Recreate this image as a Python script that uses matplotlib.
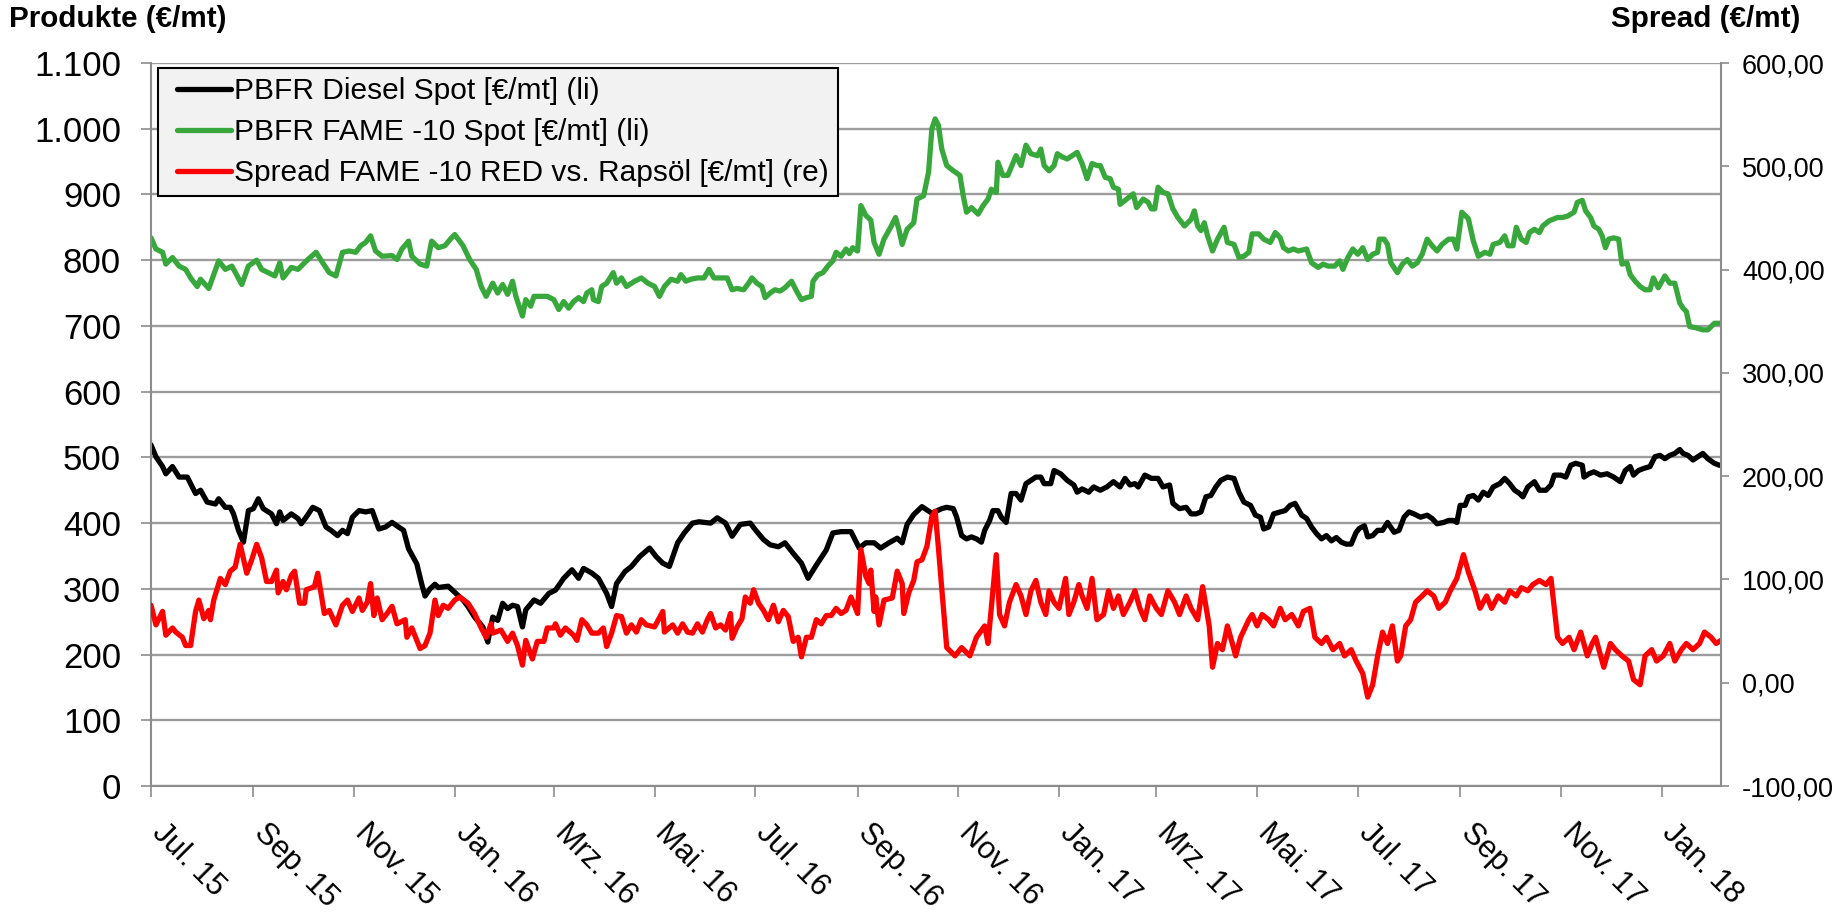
#!/usr/bin/env python3
"""
Produktpreise Diesel / FAME -10 und Spread FAME vs. Rapsoel
(readings Jul 2015 - Feb 2018, days counted from 1 Jul 2015)
"""

import pandas as pd
import matplotlib
matplotlib.use('Agg')
import matplotlib.pyplot as plt
import matplotlib.dates as mdates
from matplotlib.ticker import FuncFormatter
from matplotlib.transforms import ScaledTranslation
from matplotlib.legend_handler import HandlerLine2D

plt.rcParams['font.family'] = ['Liberation Sans', 'DejaVu Sans']

START_DATE = '2015-07-01'
LAST_DAY = 951

# PBFR Diesel Spot [EUR/mt] (left axis)
diesel_days = [0, 3, 7, 9, 13, 17, 22, 27, 30, 34, 39, 41, 45, 48, 50, 53, 56, 59, 62, 65, 68, 73, 76, 78, 80,
               85, 89, 91, 94, 98, 102, 106, 109, 113, 116, 119, 122, 126, 130, 134, 138, 142, 146, 150, 153,
               156, 161, 164, 166, 169, 172, 174, 180, 183,
               189, 192, 196, 201, 204, 207, 210, 213, 216, 219, 222, 225, 227, 232, 236, 241, 245, 250, 255,
               259, 262, 267, 271, 276, 279, 282, 287, 291, 296, 302, 306, 310, 314, 319, 323, 328, 332, 339,
               343, 348, 352, 357, 363, 366, 371, 375, 380, 384, 389, 394, 398, 403, 409, 413, 418, 424, 429,
               433, 438, 442, 447, 452, 455, 458, 462, 467, 473,
               479, 482, 486, 488, 491, 494, 497, 500, 503, 505, 508, 510, 513, 515, 518, 521, 524, 527, 530,
               533, 536, 539, 541, 545, 547,
               551, 555, 559, 561, 564, 568, 571, 575, 579, 583, 587, 590, 593, 596, 598, 602, 606, 610, 613,
               617, 619, 623, 627, 630, 633, 636, 639, 642, 645, 648, 652, 656, 659, 662, 666, 669, 672, 674,
               677, 680, 684, 687, 690, 693, 697, 700, 703, 706, 709, 712, 715, 718, 721, 724, 727, 730,
               732, 735, 737, 740, 743, 746, 749, 753, 756, 759, 762, 765, 769, 773, 776, 779, 783, 786, 789,
               791, 793, 796, 798, 801, 804, 807, 810, 813, 817, 820, 823, 826, 829, 831, 834, 838, 841, 845,
               848, 850, 854, 857, 860, 863, 867, 868, 871, 874, 878, 882, 886, 890, 893, 896, 898, 901, 904,
               908, 911, 914, 917, 920, 923, 926, 928, 931, 934, 937, 940, 943, 947, 950, 951]
diesel = [519, 501, 486, 475, 486, 470, 470, 445, 450, 432, 429, 437, 424, 424, 414, 389, 371, 419, 422, 437,
          422, 414, 399, 417, 404, 414, 407, 399, 409, 424, 419, 394, 389, 381, 389, 384, 409, 419, 417, 419,
          391, 394, 401, 394, 389, 361, 338, 307, 289, 300, 307, 302, 304, 297,
          283, 273, 257, 242, 219, 257, 252, 278, 270, 275, 273, 242, 268, 283, 278, 293, 298, 316, 329,
          316, 331, 324, 316, 293, 273, 308, 326, 334, 349, 362, 349, 339, 334, 370, 385, 400, 402, 400,
          408, 400, 380, 398, 400, 390, 375, 367, 364, 370, 354, 339, 316, 336, 359, 385, 387, 387, 362,
          370, 370, 362, 370, 377, 370, 398, 413, 425, 415,
          422, 424, 422, 409, 381, 376, 379, 376, 371, 389, 404, 419, 419, 409, 401, 445, 445, 435, 460,
          465, 470, 470, 460, 460, 480,
          475, 465, 458, 447, 452, 447, 455, 450, 455, 463, 455, 468, 458, 460, 455, 473, 468, 468, 455,
          458, 430, 422, 424, 414, 414, 417, 440, 442, 455, 465, 470, 468, 447, 432, 427, 412, 409, 391,
          394, 414, 417, 419, 427, 430, 412, 407, 394, 384, 376, 381, 373, 378, 371, 368, 368, 386,
          392, 396, 379, 381, 389, 389, 401, 386, 389, 409, 417, 414, 409, 412, 407, 399, 401, 404, 404,
          401, 427, 427, 440, 442, 435, 447, 442, 455, 460, 468, 460, 450, 445, 440, 455, 463, 450, 450,
          458, 473, 473, 470, 488, 491, 488, 470, 475, 478, 473, 475, 470, 463, 480, 486, 473, 480, 483,
          486, 501, 503, 498, 503, 506, 512, 506, 503, 496, 501, 506, 498, 491, 488, 488]

# PBFR FAME -10 Spot [EUR/mt] (left axis)
fame_days = [0, 3, 7, 9, 13, 17, 21, 24, 28, 30, 35, 41, 45, 49, 55, 59, 64, 67, 71, 75, 78, 80, 85, 89, 95,
             100, 104, 108, 112, 116, 120, 124, 127, 130, 133, 136, 140, 146, 149, 152, 156, 158, 163, 167,
             170, 174, 178, 182, 184,
             189, 193, 197, 200, 203, 207, 210, 213, 216, 219, 221, 225, 227, 230, 232, 236, 240, 244, 247,
             250, 253, 256, 259, 262, 264, 267, 268, 271, 273, 276, 280, 282, 285, 288, 293, 297, 301, 305,
             308, 311, 315, 319, 321, 324, 327, 331, 335, 338, 341, 345, 349, 352, 355, 359, 362,
             364, 367, 370, 372, 375, 378, 381, 384, 388, 391, 394, 397, 400, 401, 404, 407, 410, 413, 415,
             418, 421, 423, 425, 428, 430, 433, 436, 438, 441, 444, 448, 451, 453, 455, 458, 462, 464, 468,
             471, 473, 475, 477, 479, 482, 486, 490, 492, 494, 497, 501, 504, 507, 509, 512, 513, 516, 519,
             521, 524, 527, 530, 533, 537, 539, 541, 544, 547,
             549, 552, 555, 558, 561, 564, 567, 570, 573, 575, 578, 581, 583, 586, 587, 591, 595, 597, 601,
             604, 606, 608, 610, 613, 616, 619, 622, 626, 630, 632, 634, 636, 638, 640, 643, 646, 650, 652,
             656, 659, 662, 665, 667, 671, 674, 678, 681, 684, 686, 689, 692, 695, 700, 703, 707, 710, 713,
             717, 720, 722, 725, 728, 731,
             734, 737, 740, 743, 744, 747, 749, 751, 755, 758, 761, 764, 767, 770, 773, 776, 779, 782, 786,
             789, 791, 794, 798, 801, 804, 808, 811, 813, 817, 820, 822, 825, 827, 830, 833, 835, 838, 841,
             843, 847, 852, 855, 858, 862, 864, 867, 869, 872, 874, 877, 879, 881, 883, 886, 889, 891, 894,
             896, 899, 902, 905, 908, 910, 913, 917, 920, 923, 926, 928, 930, 932, 936, 940, 943, 947, 951]
fame = [834, 817, 812, 794, 804, 791, 786, 773, 760, 771, 757, 799, 786, 791, 763, 791, 800, 786, 781, 776,
        796, 773, 789, 786, 801, 812, 796, 781, 776, 812, 814, 812, 822, 827, 837, 814, 806, 807, 801, 817,
        829, 806, 794, 791, 829, 819, 822, 834, 839,
        822, 801, 786, 760, 745, 765, 750, 763, 748, 768, 745, 715, 740, 730, 745, 745, 745, 740, 725,
        737, 727, 737, 743, 737, 750, 755, 740, 737, 760, 765, 781, 765, 773, 760, 768, 773, 765, 760,
        745, 760, 771, 768, 778, 768, 771, 773, 773, 786, 773, 773, 773, 755, 757, 755, 765,
        773, 765, 760, 743, 750, 755, 753, 758, 768, 753, 740, 743, 745, 768, 778, 781, 791, 799, 812,
        806, 817, 810, 819, 814, 883, 868, 861, 827, 809, 832, 850, 865, 847, 824, 847, 857, 893, 898,
        934, 1000, 1015, 1005, 969, 944, 936, 929, 898, 873, 880, 870, 883, 893, 908, 903, 949, 929, 929,
        941, 959, 944, 975, 962, 959, 969, 944, 936, 944,
        962, 957, 954, 959, 964, 947, 924, 947, 944, 944, 926, 924, 911, 908, 885, 893, 901, 880, 893,
        888, 878, 878, 911, 903, 901, 878, 865, 852, 862, 875, 852, 845, 857, 837, 814, 832, 850, 827,
        824, 804, 806, 812, 840, 840, 832, 827, 842, 834, 819, 814, 817, 814, 817, 796, 789, 794, 791,
        791, 799, 786, 804, 817, 809,
        819, 801, 809, 812, 832, 832, 824, 796, 781, 794, 801, 791, 796, 809, 832, 822, 814, 824, 832,
        832, 817, 873, 863, 829, 806, 812, 809, 824, 827, 837, 822, 822, 850, 832, 827, 842, 847, 842,
        852, 860, 865, 865, 867, 873, 888, 891, 875, 865, 852, 847, 837, 819, 832, 834, 832, 794, 796,
        778, 768, 760, 755, 755, 773, 758, 776, 765, 765, 735, 727, 722, 699, 697, 694, 694, 704, 704]

# Spread FAME -10 RED vs. Rapsoel [EUR/mt] (right axis)
spread_days = [0, 3, 7, 9, 13, 15, 19, 21, 24, 27, 29, 32, 35, 36, 38, 42, 45, 48, 51, 54, 58, 61, 64, 67, 70,
               73, 76, 77, 80, 82, 85, 87, 90, 93, 94, 99, 101, 105, 108, 112, 116, 119, 122, 126, 128, 131,
               133, 135, 137, 140, 143, 146, 149, 154, 155, 158, 163, 166, 169, 172, 174, 177, 180, 184, 187,
               192, 196, 200, 203, 206, 207, 212, 216, 219, 222, 225, 227, 231, 234, 238, 240, 244, 245, 248,
               251, 256, 258, 261, 264, 267, 271, 274, 276, 279, 282, 285, 288, 291, 294, 297, 300, 305, 310,
               311, 316, 319, 322, 325, 328, 331, 334, 337, 339, 342, 345, 348, 351, 352, 355, 358, 360, 363,
               365, 368, 371, 374, 377, 380, 383, 386, 389, 392, 394, 397, 400, 403, 406, 409, 412, 415, 418,
               421, 424, 428, 430, 433, 435, 436, 438, 439, 441, 444, 449, 452, 455, 456, 459, 462, 464, 467,
               470, 473, 475, 477, 479,
               482, 487, 491, 496, 500, 505, 507, 512, 514, 517, 520, 524, 527, 530, 533, 536, 539, 542, 544,
               547, 550, 554, 556, 559, 562, 564, 567, 570, 573, 577, 580, 583, 586, 589, 593, 596, 599, 602,
               605, 609, 612, 616, 620, 623, 627, 630, 634, 637, 641, 643, 646, 649, 652, 655, 657, 660, 665,
               667, 670, 673, 677, 680, 684, 687, 691, 695, 698, 702, 705, 709, 712, 716, 720, 723, 727, 730,
               734, 737, 740, 743, 746, 749, 752, 755, 757, 760, 763, 766, 770, 773, 777, 780, 784, 787, 791,
               795, 798, 802, 805, 809, 812, 816, 820, 823, 827, 830, 834, 837, 841, 845, 848, 852, 855, 859,
               862, 866, 870, 873, 875, 880, 884, 887, 891, 895, 898, 902, 905, 909, 912, 916, 920, 923, 927,
               930, 934, 938, 941, 945, 948, 951]
spread = [75, 56, 69, 46, 53, 49, 44, 36, 36, 69, 80, 62, 70, 61, 80, 101, 95, 108, 112, 134, 106, 119, 134,
          121, 98, 98, 109, 87, 98, 90, 104, 108, 77, 77, 90, 93, 106, 67, 70, 56, 75, 80, 69, 82, 70, 78,
          96, 65, 82, 61, 67, 74, 57, 61, 44, 53, 33, 36, 48, 80, 65, 75, 72, 80, 83,
          77, 67, 53, 44, 57, 48, 51, 40, 48, 36, 17, 41, 23, 40, 40, 53, 53, 57, 46,
          53, 46, 41, 61, 56, 48, 48, 53, 35, 48, 65, 64, 48, 56, 49, 61, 56, 54, 69,
          49, 56, 48, 57, 49, 48, 57, 49, 61, 67, 53, 56, 51, 67, 43, 54, 62, 83, 77,
          90, 77, 70, 61, 75, 59, 70, 64, 40, 44, 25, 44, 44, 61, 57, 65, 65, 72, 67,
          70, 83, 67, 129, 103, 96, 109, 69, 83, 56, 80, 82, 108, 96, 67, 87, 99, 117, 119,
          132, 161, 166, 130, 91,
          34, 26, 34, 26, 44, 55, 38, 124, 66, 55, 78, 95, 84, 66, 89, 99, 78, 66, 89,
          78, 72, 101, 66, 78, 95, 84, 72, 101, 61, 66, 89, 72, 84, 66, 78, 89, 72, 61,
          84, 72, 66, 89, 78, 66, 84, 72, 61, 93, 55, 15, 38, 32, 55, 38, 26, 44, 61,
          66, 55, 66, 61, 55, 72, 61, 66, 55, 69, 72, 44, 38, 44, 32, 38, 26, 32, 21,
          9, -14, -2, 26, 49, 38, 55, 21, 26, 55, 61, 78, 84, 89, 84, 72, 78, 89, 101,
          124, 107, 89, 72, 84, 72, 84, 78, 89, 84, 92, 89, 95, 99, 95, 101, 44, 38, 44,
          32, 49, 26, 38, 44, 15, 38, 32, 26, 21, 3, -2, 26, 32, 21, 26, 38, 21, 32,
          38, 32, 38, 49, 44, 38, 41]

labels = ['PBFR Diesel Spot [€/mt] (li)',
          'PBFR FAME -10 Spot [€/mt] (li)',
          'Spread FAME -10 RED vs. Rapsöl [€/mt] (re)']
colors = ['#000000', '#39a83c', '#ff0000']

MONTHS_DE = ['Jan', 'Feb', 'Mrz', 'Apr', 'Mai', 'Jun', 'Jul', 'Aug', 'Sep', 'Okt', 'Nov', 'Dez']
GRAY = '#8c8c8c'
LW = 3.8


def to_dates(days):
    return pd.Timestamp(START_DATE) + pd.to_timedelta(days, unit='D')


def month_label(x, pos):
    d = mdates.num2date(x)
    return f"{MONTHS_DE[d.month - 1]}. {d.year % 100:02d}"


def plot_chart():
    fig = plt.figure(figsize=(18.48, 9.13), dpi=100)
    ax1 = fig.add_axes([151 / 1848, 127 / 913, 1570 / 1848, 723 / 913])
    ax2 = ax1.twinx()

    style = dict(lw=LW, solid_joinstyle='round', solid_capstyle='round')
    l1, = ax1.plot(to_dates(diesel_days), diesel, color=colors[0], **style)
    l2, = ax1.plot(to_dates(fame_days), fame, color=colors[1], **style)
    l3, = ax2.plot(to_dates(spread_days), spread, color=colors[2], **style)

    # left axis
    ax1.set_ylim(0, 1100)
    ax1.set_yticks(range(0, 1101, 100))
    ax1.yaxis.set_major_formatter(FuncFormatter(lambda v, p: f"{v:,.0f}".replace(',', '.')))
    ax1.yaxis.grid(True, color='#9c9c9c', lw=1.7)
    ax1.set_axisbelow(True)
    ax1.tick_params(axis='y', direction='out', length=7.2, width=1.2, color=GRAY,
                    labelsize=25, pad=14.4)

    # right axis
    ax2.set_ylim(-100, 600)
    ax2.set_yticks(range(-100, 601, 100))
    ax2.yaxis.set_major_formatter(FuncFormatter(lambda v, p: f"{v:.2f}".replace('.', ',')))
    ax2.tick_params(axis='y', direction='out', length=5.8, width=1.2, color=GRAY,
                    labelsize=19.5, pad=9.4)

    # date axis
    ax1.set_xlim(to_dates([0])[0], to_dates([LAST_DAY])[0])
    ax1.xaxis.set_major_locator(mdates.MonthLocator(bymonth=[1, 3, 5, 7, 9, 11]))
    ax1.xaxis.set_major_formatter(FuncFormatter(month_label))
    ax1.tick_params(axis='x', direction='out', length=8, width=1.2, color=GRAY,
                    labelsize=22, pad=15, labelrotation=-45)
    shift = ScaledTranslation(16 / 100, 0, fig.dpi_scale_trans)
    for lbl in ax1.get_xticklabels():
        lbl.set_ha('left')
        lbl.set_va('top')
        lbl.set_rotation_mode('anchor')
        lbl.set_transform(lbl.get_transform() + shift)

    for sp in ['top', 'right']:
        ax1.spines[sp].set_visible(False)
    for sp in ['top', 'bottom', 'left']:
        ax2.spines[sp].set_visible(False)
    for sp in ['left', 'bottom']:
        ax1.spines[sp].set_color(GRAY)
        ax1.spines[sp].set_linewidth(1.5)
    ax2.spines['right'].set_color(GRAY)
    ax2.spines['right'].set_linewidth(1.5)

    leg = ax2.legend([l1, l2, l3], labels, loc='upper left', bbox_to_anchor=(0.0045, 0.993),
                     fontsize=21.5, fancybox=False, facecolor='#f2f2f2', edgecolor='black',
                     framealpha=1, handlelength=2.15, handletextpad=0.1, borderpad=0.3,
                     labelspacing=0.44, borderaxespad=0,
                     handler_map={l: HandlerLine2D(xpad=0.35) for l in (l1, l2, l3)})
    leg.get_frame().set_linewidth(1.5)

    fig.text(9 / 1848, 1 - 19 / 913, 'Produkte (€/mt)', fontsize=21.3, fontweight='bold',
             ha='left', va='center')
    fig.text(1800 / 1848, 1 - 19 / 913, 'Spread (€/mt)', fontsize=21.3, fontweight='bold',
             ha='right', va='center')

    fig.savefig('out.png', dpi=100)
    print("Saved: out.png")


if __name__ == '__main__':
    plot_chart()
